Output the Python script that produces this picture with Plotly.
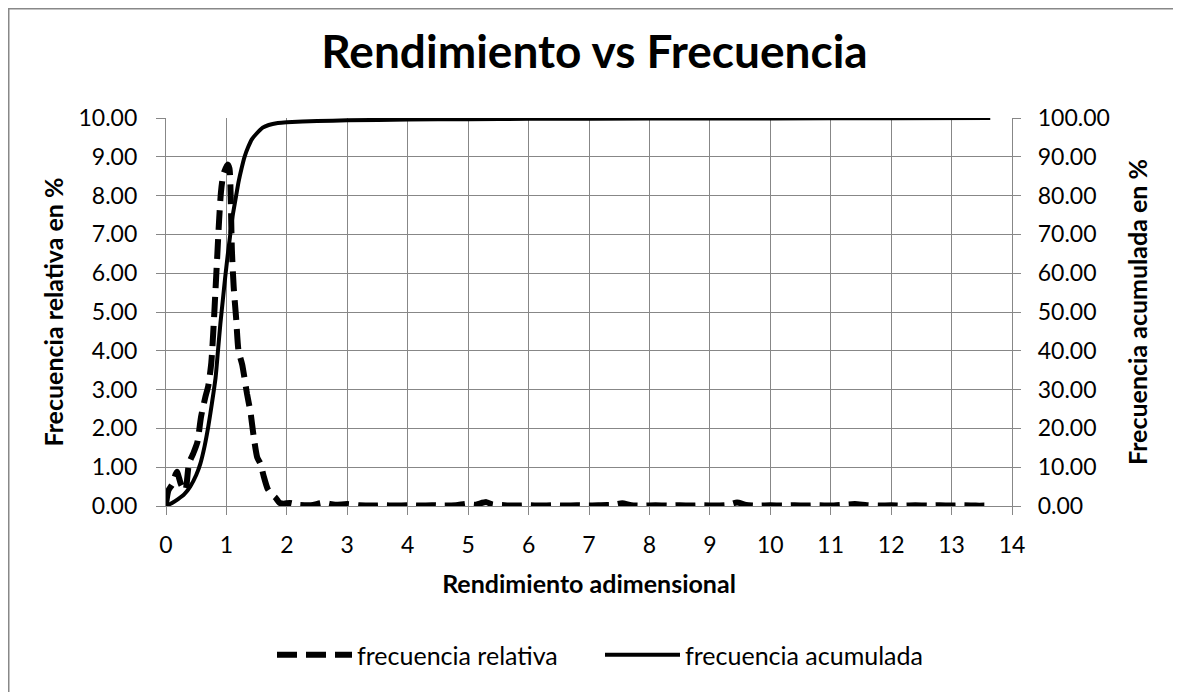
import plotly.graph_objects as go

# frecuencia relativa (%) vs rendimiento adimensional
rend_rel = [0.00, 0.04, 0.10, 0.18, 0.25, 0.32, 0.38, 0.45, 0.52, 0.58,
            0.65, 0.70, 0.75, 0.79, 0.82, 0.85, 0.88, 0.91, 0.95, 1.02,
            1.05, 1.07, 1.09, 1.12, 1.16, 1.20, 1.26, 1.34, 1.40, 1.45,
            1.51, 1.56, 1.62, 1.68, 1.75, 1.82, 1.88, 1.95, 2.05, 2.20,
            2.40, 2.60, 2.80, 3.00, 3.20, 3.40, 3.60, 3.80, 4.00, 4.20,
            4.40, 4.60, 4.80, 5.00, 5.10, 5.30, 5.40, 5.60, 5.80, 6.00,
            6.20, 6.40, 6.60, 6.80, 7.00, 7.20, 7.40, 7.55, 7.70, 7.90,
            8.10, 8.30, 8.50, 8.70, 8.90, 9.10, 9.30, 9.45, 9.60, 9.80,
            10.00, 10.20, 10.40, 10.60, 10.80, 11.00, 11.20, 11.40, 11.60, 11.80,
            12.00, 12.20, 12.40, 12.60, 12.80, 13.00, 13.20, 13.40, 13.57]
frec_rel = [0.05, 0.40, 0.55, 0.88, 0.55, 0.40, 1.10, 1.35, 1.65, 2.30,
            2.80, 3.10, 3.70, 4.70, 5.60, 6.50, 7.40, 8.10, 8.55, 8.80,
            8.70, 8.00, 6.60, 5.65, 4.85, 4.00, 3.65, 2.90, 2.40, 1.80,
            1.25, 1.10, 0.75, 0.45, 0.30, 0.20, 0.08, 0.06, 0.08, 0.03,
            0.02, 0.08, 0.03, 0.05, 0.02, 0.01, 0.02, 0.01, 0.02, 0.01,
            0.02, 0.01, 0.02, 0.06, 0.03, 0.10, 0.04, 0.02, 0.01, 0.02,
            0.01, 0.02, 0.01, 0.02, 0.01, 0.02, 0.03, 0.07, 0.02, 0.01,
            0.02, 0.01, 0.02, 0.01, 0.02, 0.01, 0.03, 0.09, 0.03, 0.01,
            0.02, 0.01, 0.02, 0.01, 0.02, 0.01, 0.03, 0.05, 0.02, 0.01,
            0.02, 0.01, 0.02, 0.01, 0.02, 0.01, 0.02, 0.01, 0.01]

# frecuencia acumulada (%)
rend_acu = [0.00, 0.10, 0.20, 0.30, 0.40, 0.50, 0.57, 0.64, 0.70, 0.76,
            0.82, 0.86, 0.90, 0.94, 0.98, 1.02, 1.06, 1.10, 1.15, 1.20,
            1.25, 1.30, 1.36, 1.42, 1.50, 1.60, 1.70, 1.85, 2.00, 2.50,
            3.00, 4.00, 5.00, 6.00, 8.00, 10.00, 12.00, 13.64]
frec_acu = [0.0, 0.8, 1.8, 3.0, 5.0, 8.0, 11.0, 15.5, 20.5, 26.5,
            33.0, 40.0, 47.0, 53.0, 59.0, 64.5, 69.5, 74.5, 79.0, 83.5,
            87.0, 90.0, 92.5, 94.5, 96.0, 97.5, 98.2, 98.7, 98.9, 99.2,
            99.4, 99.6, 99.7, 99.8, 99.85, 99.9, 99.95, 100.0]

FONT = "Lato"
GRID = "#878787"

# the page body has an 8px margin, so the figure is 8px smaller each way
W, H = 1173, 684
L, T, PW, PH = 158, 110, 846, 388


def px(fx):
    return (fx - L) / PW


def py(fy):
    return (T + PH - fy) / PH


fig = go.Figure()
fig.add_trace(go.Scatter(
    x=rend_rel, y=frec_rel, name="frecuencia relativa", mode="lines",
    line=dict(color="black", width=6, dash="20px,9px", shape="spline", smoothing=0.6),
))
fig.add_trace(go.Scatter(
    x=rend_acu, y=frec_acu, name="frecuencia acumulada", mode="lines", yaxis="y2",
    line=dict(color="black", width=4, shape="spline", smoothing=0.6),
))

fig.update_layout(
    width=W, height=H,
    margin=dict(l=L, r=W - L - PW, t=T, b=H - T - PH),
    plot_bgcolor="white", paper_bgcolor="white",
    font=dict(family=FONT, size=23, color="black"),
    title=dict(text="Rendimiento vs Frecuencia", x=0.5, xanchor="center",
               y=1 - 44 / H, yanchor="middle", yref="container",
               font=dict(family=FONT, size=46, weight="bold")),
    xaxis=dict(range=[0, 14], dtick=1, showgrid=True, gridcolor=GRID, gridwidth=1.3,
               showline=True, linecolor=GRID, linewidth=1.3, zeroline=False,
               ticks="outside", ticklen=8, tickcolor=GRID, ticklabelstandoff=10,
               title=dict(text="Rendimiento adimensional", standoff=18,
                          font=dict(size=25, weight="bold"))),
    yaxis=dict(range=[0, 10], dtick=1, tickformat=".2f", showgrid=True,
               gridcolor=GRID, gridwidth=1.3, showline=True, linecolor=GRID,
               linewidth=1.3, zeroline=False, ticks="outside", ticklen=9,
               tickcolor=GRID, ticklabelstandoff=14,
               title=dict(text="Frecuencia relativa en %", standoff=7,
                          font=dict(size=25, weight="bold"))),
    yaxis2=dict(range=[0, 100], dtick=10, tickformat=".2f", overlaying="y",
                side="right", showgrid=False, showline=True, linecolor=GRID,
                linewidth=1.3, zeroline=False, ticks="outside", ticklen=8,
                tickcolor=GRID, ticklabelstandoff=12,
                title=dict(text="Frecuencia acumulada en %", standoff=20,
                           font=dict(size=25, weight="bold"))),
    legend=dict(orientation="h", x=px(264), xanchor="left", y=py(647),
                yanchor="middle", font=dict(size=25), itemwidth=75,
                entrywidth=238, entrywidthmode="pixels",
                bgcolor="rgba(0,0,0,0)"),
    showlegend=True,
)

# chart area border
fig.add_shape(type="rect", xref="paper", yref="paper",
              x0=px(0.75), x1=px(1167), y0=py(700), y1=py(0.75),
              line=dict(color="#888888", width=1.5), layer="below")

fig.write_html("out.html")
